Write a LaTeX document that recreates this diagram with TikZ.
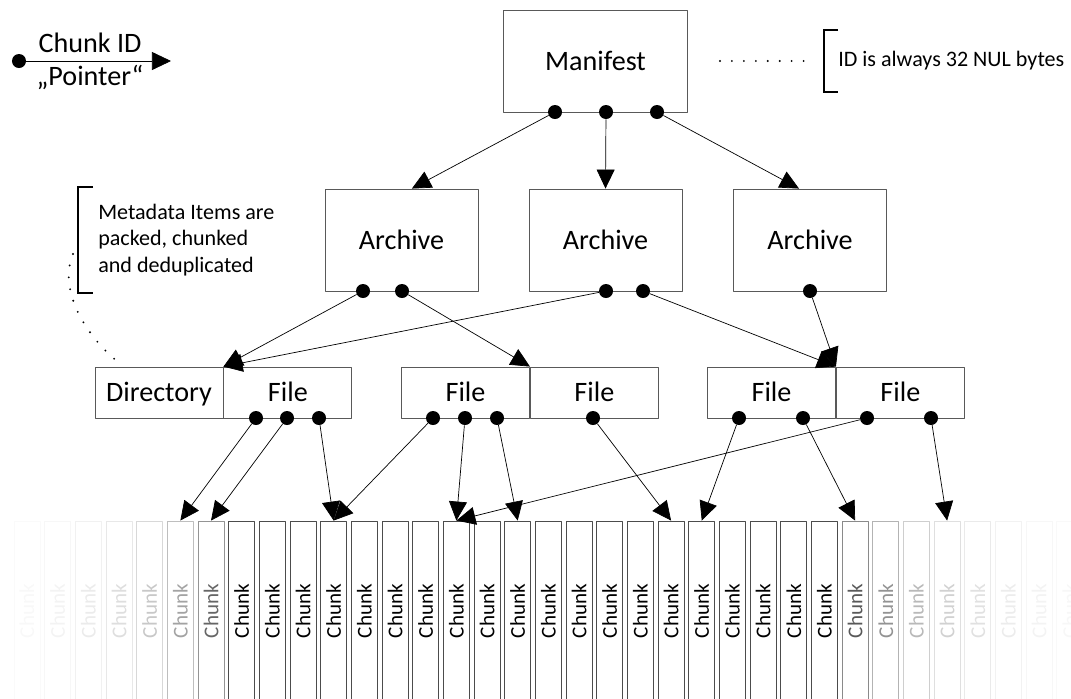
\documentclass[tikz,border=0pt]{standalone}
\usepackage{fontspec}
\setmainfont{Carlito}
\usetikzlibrary{arrows.meta}

\begin{document}
\begin{tikzpicture}[x=0.025cm,y=-0.025cm,join=round, % 1 unit = 1 pixel
        box/.style={draw=black!65,line width=0.6pt,inner sep=0pt,minimum width=3.825cm,minimum height=2.55cm,text height=13pt,text depth=0pt,font=\fontsize{20}{24}\selectfont},
        cell/.style={box,minimum width=3.2cm,minimum height=1.275cm},
        chunk/.style={draw=black!70,line width=0.6pt,rotate=90,inner sep=0pt,minimum width=4.5cm,minimum height=0.65cm,font=\fontsize{15}{18}\selectfont},
        ptr/.style={circle,fill=black,inner sep=0pt,minimum size=0.35cm},
        ref/.style={-{Triangle[length=0.475cm,width=0.45cm]},line width=0.5pt},
        note/.style={inner sep=0pt,font=\fontsize{15.7}{19}\selectfont},
        brk/.style={line width=1.3pt,line cap=butt,join=miter},
        dots/.style={line width=1.5pt,line cap=round,dash pattern=on 0pt off 8.5pt}]
        \useasboundingbox (0,0) rectangle (1071,698);
        \clip (0,0) rectangle (1071,698);
        % legend
        \node[ptr] (lg) at (19,61) {};
        \coordinate (lgend) at (171,61);
        \draw[ref] (lg) -- (lgend);
        \node[anchor=base,inner sep=0pt,font=\fontsize{20}{24}\selectfont] (lgid) at (90,52) {Chunk ID};
        \node[anchor=base,inner sep=0pt,font=\fontsize{20}{24}\selectfont] (lgptr) at (90,85) {„Pointer“};
        % boxes
        \node[box,minimum width=4.6cm] (man) at (595.5,61) {Manifest};
        \node[box] (a1) at (401.5,240) {Archive};
        \node[box] (a2) at (605.5,240) {Archive};
        \node[box] (a3) at (810,240) {Archive};
        \node[cell] (d1) at (159,392.5) {Directory};
        \node[cell,anchor=west] (f1) at (d1.east) {File};
        \node[cell] (f2) at (465.5,392.5) {File};
        \node[cell,anchor=west] (f3) at (f2.east) {File};
        \node[cell] (f4) at (771.5,392.5) {File};
        \node[cell,anchor=west] (f5) at (f4.east) {File};
        \foreach \i in {0,...,34}{
                \pgfmathsetmacro\op{0.6^max(0,7-\i)*0.65^max(0,\i-26)}
                \node[chunk,opacity=\op] (c\i) at ({27+30.67*\i},611) {Chunk};
        }
        % notes
        \coordinate (br1) at (824,61);
        \draw[brk] (838,30) -- (824,30) -- (824,92) -- (838,92);
        \node[note,anchor=west] (n1) at (838,61) {ID is always 32 NUL bytes};
        \draw[dots] ([xshift=0.8cm]man.east) -- ([xshift=-0.3cm]br1);
        \coordinate (br2) at (73,254);
        \draw[brk] (93,187) -- (78,187) -- (78,293) -- (93,293);
        \node[note,anchor=west,align=left] (n2) at (98,240) {Metadata Items are\\packed, chunked\\and deduplicated};
        \draw[dots] (br2) .. controls (58,290) and (85,335) .. ([shift={(0.6cm,0.1cm)}]d1.north west);
        % pointers
        \node[ptr] (m1) at (555,112) {};
        \node[ptr] (m2) at (606,112) {};
        \node[ptr] (m3) at (657,112) {};
        \node[ptr] (a1p1) at (363,291) {};
        \node[ptr] (a1p2) at (402,291) {};
        \node[ptr] (a2p1) at (606,291) {};
        \node[ptr] (a2p2) at (643,291) {};
        \node[ptr] (a3p1) at (810,291) {};
        \node[ptr] (f1p1) at (256,418) {};
        \node[ptr] (f1p2) at (287,418) {};
        \node[ptr] (f1p3) at (319,418) {};
        \node[ptr] (f2p1) at (433,418) {};
        \node[ptr] (f2p2) at (465,418) {};
        \node[ptr] (f2p3) at (497,418) {};
        \node[ptr] (f3p1) at (593,418) {};
        \node[ptr] (f4p1) at (739,418) {};
        \node[ptr] (f4p2) at (803,418) {};
        \node[ptr] (f5p1) at (867,418) {};
        \node[ptr] (f5p2) at (931,418) {};
        \draw[ref] (m1) -- ([xshift=0.26cm]a1.north);
        \draw[ref] (m2) -- (a2.north);
        \draw[ref] (m3) -- ([xshift=-0.275cm]a3.north);
        \draw[ref] (a1p1) -- (d1.north east);
        \draw[ref] (a1p2) -- (f2.north east);
        \draw[ref] (a2p1) -- (d1.north east);
        \draw[ref] (a2p2) -- (f4.north east);
        \draw[ref] (a3p1) -- (f4.north east);
        \draw[ref] (f1p1) -- (c5.east);
        \draw[ref] (f1p2) -- (c6.east);
        \draw[ref] (f1p3) -- (c10.east);
        \draw[ref] (f2p1) -- (c10.east);
        \draw[ref] (f2p2) -- (c14.east);
        \draw[ref] (f2p3) -- (c16.east);
        \draw[ref] (f3p1) -- (c21.east);
        \draw[ref] (f4p1) -- (c22.east);
        \draw[ref] (f4p2) -- (c27.east);
        \draw[ref] (f5p1) -- (c14.east);
        \draw[ref] (f5p2) -- (c30.east);
\end{tikzpicture}
\end{document}
